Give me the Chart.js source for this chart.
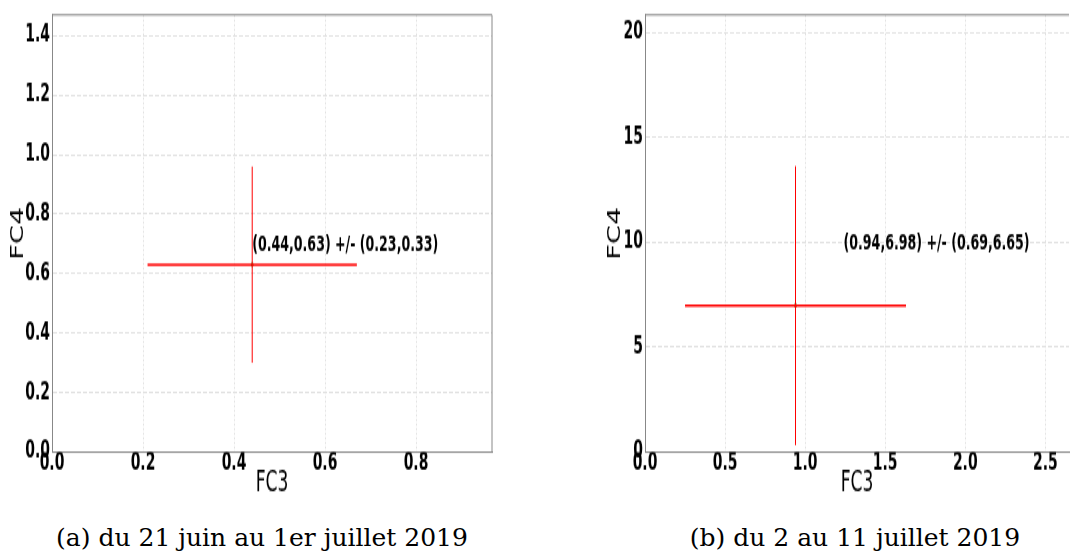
<!DOCTYPE html>
<html>
<head>
<meta charset="utf-8">
<script src="https://cdn.jsdelivr.net/npm/chart.js@4/dist/chart.umd.min.js"></script>
<style>
    body { margin: 0; width: 1073px; height: 556px; overflow: hidden; background: #fff; position: relative; }
    .panel { position: absolute; top: 0; }
    .panel canvas { transform: scaleY(1.53); transform-origin: 0 0; }
    .cap { position: absolute; top: 523px; line-height: 30px; white-space: nowrap;
           transform: translateX(-50%); font-family: 'DejaVu Serif', serif; font-size: 25px; color: #000; }
</style>
</head>
<body>
<div class="panel" style="left:0;width:500px"><canvas id="chartA" width="500" height="330"></canvas></div>
<div class="panel" style="left:560px;width:513px"><canvas id="chartB" width="513" height="330"></canvas></div>
<div class="cap" id="capA" style="left:262px"></div>
<div class="cap" id="capB" style="left:855px"></div>

<script>
// ===================================
// DATA
// ===================================

const captions = ['(a) du 21 juin au 1er juillet 2019', '(b) du 2 au 11 juillet 2019'];

// panel (a)
const centreA = [0.44, 0.63];
const errorA = [0.23, 0.33];
const labelPosA = [0.44, 0.66];
const xTicksA = [0.0, 0.2, 0.4, 0.6, 0.8];
const yTicksA = [0.0, 0.2, 0.4, 0.6, 0.8, 1.0, 1.2, 1.4];
const limitsA = [0.967, 1.47];

// panel (b)
const centreB = [0.94, 6.98];
const errorB = [0.69, 6.65];
const labelPosB = [1.24, 9.41];
const xTicksB = [0.0, 0.5, 1.0, 1.5, 2.0, 2.5];
const yTicksB = [0, 5, 10, 15, 20];
const limitsB = [2.648, 20.84];

// ===================================
// STYLE
// ===================================

const tickFont = { family: "'DejaVu Sans Condensed', 'DejaVu Sans', sans-serif", size: 15.5, weight: 'bold', lineHeight: 1 };
const axisColor = '#888';
const gridColor = '#e2e2e2';

// draws the top/right frame and the "(x,y) +/- (dx,dy)" note
const framePlugin = {
    id: 'frame',
    afterDatasetsDraw(chart, args, opts) {
        const { ctx, chartArea: a, scales } = chart;
        ctx.save();
        ctx.strokeStyle = axisColor;
        ctx.lineWidth = 1;
        ctx.beginPath();
        ctx.moveTo(a.left, a.top);
        ctx.lineTo(a.right, a.top);
        if (opts.right) ctx.lineTo(a.right, a.bottom);
        ctx.stroke();

        ctx.font = "bold 14px 'DejaVu Sans Condensed', 'DejaVu Sans', sans-serif";
        ctx.fillStyle = '#000';
        ctx.textBaseline = 'bottom';
        ctx.textAlign = 'left';
        ctx.fillText(opts.text, scales.x.getPixelForValue(opts.pos[0]), scales.y.getPixelForValue(opts.pos[1]));
        ctx.restore();
    }
};

function noteText(c, e) {
    return `(${c[0].toFixed(2)},${c[1].toFixed(2)}) +/- (${e[0].toFixed(2)},${e[1].toFixed(2)})`;
}

function buildChart(id, cfg) {
    const [cx, cy] = cfg.centre;
    const [ex, ey] = cfg.error;

    return new Chart(document.getElementById(id), {
        type: 'scatter',
        data: {
            datasets: [
                {
                    data: [{ x: cx - ex, y: cy }, { x: cx + ex, y: cy }],
                    showLine: true, borderColor: '#ff0000', borderWidth: 1.3, pointRadius: 0
                },
                {
                    data: [{ x: cx, y: cy - ey }, { x: cx, y: cy + ey }],
                    showLine: true, borderColor: '#ff0000', borderWidth: 1, pointRadius: 0
                },
                {
                    data: [{ x: cx, y: cy }],
                    pointRadius: 1.4, backgroundColor: '#1a8a1a', borderColor: '#1a8a1a', borderWidth: 0
                }
            ]
        },
        options: {
            responsive: false,
            animation: false,
            layout: { padding: { top: 5.9, left: 0, right: cfg.padRight, bottom: 0 } },
            plugins: {
                legend: { display: false },
                tooltip: { enabled: false },
                frame: { right: cfg.frameRight, text: noteText(cfg.centre, cfg.error), pos: cfg.labelPos }
            },
            scales: {
                x: {
                    type: 'linear',
                    min: 0,
                    max: cfg.limits[0],
                    afterBuildTicks: s => { s.ticks = cfg.xTicks.map(v => ({ value: v })); },
                    afterFit: s => { s.height = 34.6; },
                    ticks: {
                        callback: v => v.toFixed(1),
                        font: tickFont, color: '#000', padding: 0,
                        maxRotation: 0, autoSkip: false
                    },
                    grid: { color: gridColor, lineWidth: 1, drawTicks: false },
                    border: { color: axisColor, width: 1, dash: [1.5, 1.5] },
                    title: {
                        display: true, text: 'FC3', color: '#000',
                        font: { family: "'DejaVu Sans Condensed', 'DejaVu Sans', sans-serif", size: 19, lineHeight: 1 },
                        padding: { top: 0, bottom: 4.2 }
                    }
                },
                y: {
                    type: 'linear',
                    min: 0,
                    max: cfg.limits[1],
                    afterBuildTicks: s => { s.ticks = cfg.yTicks.map(v => ({ value: v })); },
                    afterFit: s => { s.width = cfg.yWidth; },
                    ticks: {
                        callback: cfg.yFmt,
                        font: tickFont, color: '#000', padding: 2, autoSkip: false
                    },
                    grid: { color: gridColor, lineWidth: 1, drawTicks: false },
                    border: { color: axisColor, width: 1, dash: [4, 2] },
                    title: {
                        display: true, text: 'FC4', color: '#000',
                        font: { family: "'DejaVu Sans', sans-serif", size: 18, lineHeight: 1 },
                        padding: { top: cfg.yTitlePad, bottom: 0 }
                    }
                }
            }
        },
        plugins: [framePlugin]
    });
}

buildChart('chartA', {
    centre: centreA, error: errorA, labelPos: labelPosA,
    xTicks: xTicksA, yTicks: yTicksA, limits: limitsA,
    yFmt: v => v.toFixed(1), yWidth: 52, yTitlePad: 9.5, padRight: 8, frameRight: true
});

buildChart('chartB', {
    centre: centreB, error: errorB, labelPos: labelPosB,
    xTicks: xTicksB, yTicks: yTicksB, limits: limitsB,
    yFmt: v => String(v), yWidth: 85, yTitlePad: 46, padRight: 0, frameRight: false
});

document.getElementById('capA').textContent = captions[0];
document.getElementById('capB').textContent = captions[1];
</script>
</body>
</html>
